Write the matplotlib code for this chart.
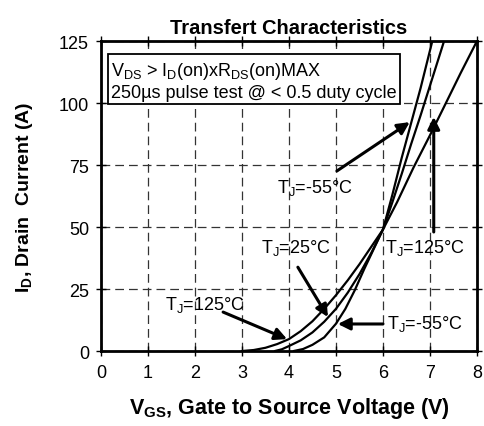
import numpy as np
import matplotlib
matplotlib.use("Agg")
import matplotlib.pyplot as plt

plt.rcParams["font.family"] = ["Liberation Sans", "DejaVu Sans"]
plt.rcParams["mathtext.fontset"] = "custom"
plt.rcParams["mathtext.rm"] = "Liberation Sans"
plt.rcParams["mathtext.bf"] = "Liberation Sans:bold"

# transfer curves
vgs_125 = [3.0, 3.25, 3.5, 3.75, 4.0, 4.25, 4.5, 4.75, 5.0, 5.25, 5.5, 5.75,
           6.0, 6.3, 6.65, 7.0, 7.3, 7.65, 8.0]
id_125 = [0, 0.4, 1.3, 2.8, 4.8, 8, 12, 17, 22.5, 28.5, 35, 42,
          49, 60, 74, 87, 98.5, 112, 125]

vgs_25 = [3.7, 3.85, 4.0, 4.25, 4.5, 4.75, 5.0, 5.25, 5.5, 5.75,
          6.0, 6.2, 6.4, 6.6, 6.8, 7.0, 7.3]
id_25 = [0, 0.7, 2, 4.3, 7.5, 11.8, 17, 23.5, 31, 39.5,
         49, 60, 71.5, 83.5, 95, 107, 125]

vgs_m55 = [4.1, 4.3, 4.5, 4.75, 5.0, 5.2, 5.4, 5.6, 5.8,
           6.0, 6.2, 6.4, 6.6, 6.8, 7.05]
id_m55 = [0, 0.8, 2.5, 5.5, 11, 17, 24.5, 33, 41,
          49, 63, 78, 92, 106, 125]

x_ticks = [0, 1, 2, 3, 4, 5, 6, 7, 8]
y_ticks = [0, 25, 50, 75, 100, 125]

fig = plt.figure(figsize=(4.85, 4.27), dpi=100)
ax = fig.add_axes([0.208, 0.1756, 0.7755, 0.726])

for v, i in [(vgs_125, id_125), (vgs_25, id_25), (vgs_m55, id_m55)]:
    ax.plot(v, i, color="black", lw=1.6, solid_capstyle="round", zorder=3)

ax.set_xlim(0, 8)
ax.set_ylim(0, 125)
ax.set_xticks(x_ticks)
ax.set_yticks(y_ticks)
ax.tick_params(direction="inout", length=7, width=1, labelsize=13,
               top=True, right=True)
ax.tick_params(axis="x", pad=6)
ax.tick_params(axis="y", pad=5)
ax.grid(True, color="#333333", linestyle=(0, (7, 4)), lw=0.9)
for s in ax.spines.values():
    s.set_linewidth(2)

ax.set_title("Transfert Characteristics", fontsize=14.5, fontweight="bold", pad=6)
ax.set_xlabel(r"V$_{\mathregular{GS}}$, Gate to Source Voltage (V)",
              fontsize=15.5, fontweight="bold", labelpad=10)
ax.set_ylabel(r"I$_{\mathregular{D}}$, Drain  Current (A)",
              fontsize=14, fontweight="bold", labelpad=17)

ax.text(0.027, 0.94,
        r"V$_{\mathregular{DS}}$ > I$_{\mathregular{D}}$(on)xR$_{\mathregular{DS}}$(on)MAX" + "\n"
        + "250µs pulse test @ < 0.5 duty cycle",
        transform=ax.transAxes, va="top", ha="left", fontsize=13,
        linespacing=1.25, zorder=5,
        bbox=dict(boxstyle="square,pad=0.18", fc="white", ec="black", lw=1.3))

arrow = dict(arrowstyle="-|>", color="black", lw=2.2, mutation_scale=18,
             shrinkA=0, shrinkB=0)
tj = r"T$_{\mathregular{J}}$"
fs = 13
ax.annotate("", xy=(6.57, 92.3), xytext=(5.02, 72.6), arrowprops=arrow)
ax.text(4.55, 66, tj + "=-55°C", fontsize=fs, ha="center", va="center")
ax.annotate("", xy=(4.83, 13.7), xytext=(4.19, 33.8), arrowprops=arrow)
ax.text(4.15, 42, tj + "=25°C", fontsize=fs, ha="center", va="center")
ax.annotate("", xy=(3.96, 4.8), xytext=(2.6, 15.7), arrowprops=arrow)
ax.text(2.21, 19, tj + "=125°C", fontsize=fs, ha="center", va="center")
ax.annotate("", xy=(5.04, 10.9), xytext=(6.0, 10.9), arrowprops=arrow)
ax.text(6.08, 11.2, tj + "=-55°C", fontsize=fs, ha="left", va="center")
ax.annotate("", xy=(7.08, 94.4), xytext=(7.08, 48), arrowprops=arrow)
ax.text(6.04, 42, tj + "=125°C", fontsize=fs, ha="left", va="center")

fig.savefig("out.png", dpi=100)
